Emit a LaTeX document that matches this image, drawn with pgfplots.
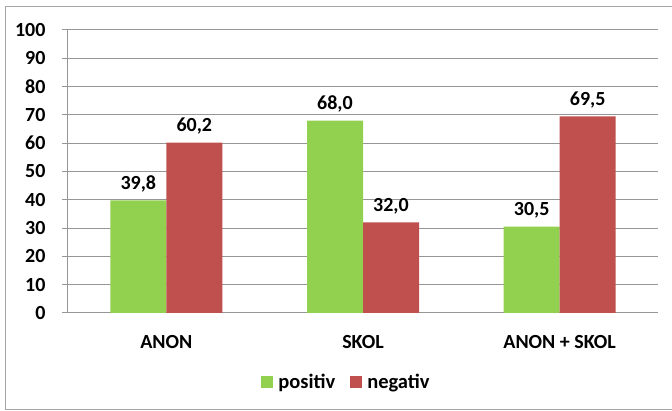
\documentclass[border=0pt]{standalone}
\usepackage{pgfplots}
\pgfplotsset{compat=1.18}
\usepackage{fontspec}
\setmainfont{Carlito}
\definecolor{gpos}{HTML}{92D050}
\definecolor{gneg}{HTML}{C0504D}
\definecolor{gridc}{HTML}{969696}
\definecolor{framec}{HTML}{A6A6A6}
\begin{document}
\begin{tikzpicture}
\useasboundingbox (0pt,0pt) rectangle (672pt,411pt);
\draw[framec, line width=1pt] (5pt,1.5pt) rectangle (690pt,404pt);
\begin{axis}[
  at={(68pt,98pt)}, anchor=south west,
  scale only axis, width=590pt, height=283pt,
  ymin=0, ymax=100, ytick={0,10,...,100},
  xmin=-0.5, xmax=2.5, xtick={0,1,2},
  xticklabels={ANON, SKOL, ANON + SKOL},
  ybar=0pt, bar width=56pt,
  axis x line=bottom, axis y line=left,
  axis line style={gridc, line width=1pt, -},
  ymajorgrids, grid style={gridc, line width=1pt},
  tick align=outside, major tick length=6pt,
  ytick style={gridc, line width=1pt},
  xtick style={draw=none},
  extra x ticks={-0.5,0.5,1.5,2.5},
  extra x tick labels={},
  extra x tick style={grid=none, major tick length=5pt, tick style={draw=gridc, line width=1pt}},
  ticklabel style={font=\bfseries\fontsize{20}{24}\selectfont, text=black},
  xticklabel style={yshift=-13pt},
  yticklabel style={xshift=-13pt},
  /pgf/number format/assume math mode=true,
  nodes near coords={\pgfmathprintnumber[fixed,fixed zerofill,precision=1,use comma,assume math mode=true]{\pgfplotspointmeta}},
  every node near coord/.append style={font=\bfseries\fontsize{20}{24}\selectfont, text=black, yshift=5pt},
  legend columns=2,
  legend style={at={(0.472,-0.244)}, anchor=center, draw=none, fill=none,
    font=\bfseries\fontsize{20.5}{24}\selectfont,
    /tikz/every even column/.append style={column sep=13pt}},
  legend image code/.code={\fill[#1] (0pt,-6pt) rectangle (12pt,6pt); \path (15pt,0pt);},
]
\addplot[fill=gpos, draw=none] coordinates {(0,39.8) (1,68.0) (2,30.5)};
\addplot[fill=gneg, draw=none] coordinates {(0,60.2) (1,32.0) (2,69.5)};
\legend{positiv, negativ}
\end{axis}
\end{tikzpicture}
\end{document}
